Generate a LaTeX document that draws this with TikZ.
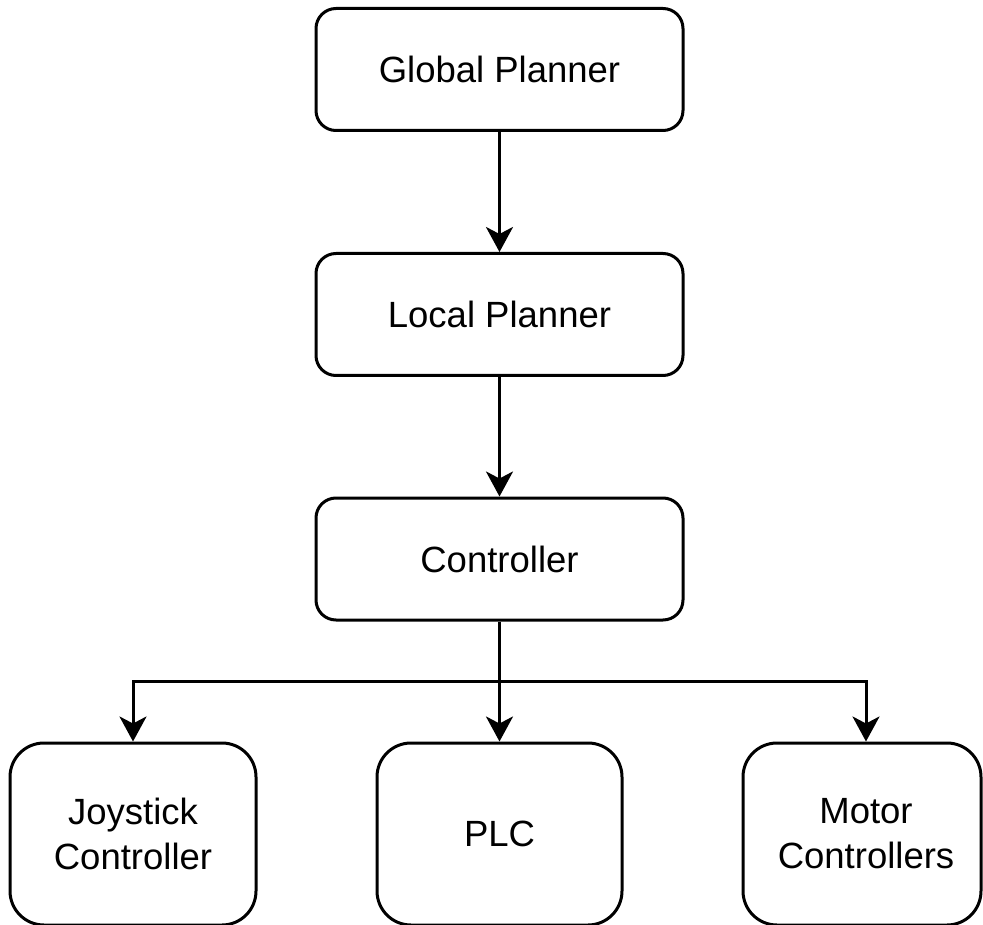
\documentclass[tikz,border=0pt]{standalone}
\usepackage{fontspec}
\setmainfont{Liberation Sans}
\usetikzlibrary{arrows.meta}
\begin{document}
\begin{tikzpicture}[x=1pt,y=1pt,
  topbox/.style={draw=black, line width=3pt, rounded corners=20pt, minimum width=367pt, minimum height=122pt, inner sep=0pt, font=\fontsize{36.5}{45}\selectfont, align=center},
  botbox/.style={draw=black, line width=3pt, rounded corners=34pt, minimum height=182pt, inner sep=0pt, font=\fontsize{36.5}{45}\selectfont, align=center},
  conn/.style={draw=black, line width=3pt, -{Stealth[length=25pt, width=27pt, inset=7pt]}}]
\useasboundingbox (0,0) rectangle (983,-925);
\node[topbox] (gp) at (499.5,-69.5) {Global Planner};
\node[topbox] (lp) at (499.5,-314.5) {Local Planner};
\node[topbox] (ctrl) at (499.5,-559) {Controller};
\node[botbox, minimum width=246pt] (joy) at (133,-834) {Joystick\\Controller};
\node[botbox, minimum width=245pt] (plc) at (499.5,-834) {PLC};
\node[botbox, minimum width=238pt] (mot) at (862,-834) {\hspace*{8pt}Motor\\\hspace*{8pt}Controllers};
\coordinate (bus) at (499.5,-681);
\draw[conn] (gp) -- (lp);
\draw[conn] (lp) -- (ctrl);
\draw[conn] (ctrl) -- (plc);
\draw[conn] (bus) -| (joy.north);
\draw[conn] (bus) -| ([xshift=4pt]mot.north);
\end{tikzpicture}
\end{document}
